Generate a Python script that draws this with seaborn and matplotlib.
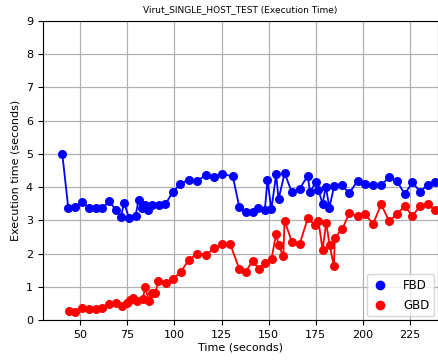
import matplotlib
matplotlib.use("Agg")
import matplotlib.pyplot as plt
from matplotlib.lines import Line2D
import pandas as pd
import seaborn as sns

# Execution time samples (time in seconds, execution time in seconds)
fbd_time = [40.4, 43.6, 47.2, 51.1, 54.6, 58.2, 61.7, 65.3, 68.8, 71.6, 73.2,
            75.9, 79.3, 80.9, 82.8, 84.6, 86.0, 88.2, 91.7, 95.1, 99.1, 103.2,
            107.5, 112.0, 116.6, 120.9, 125.3, 131.0, 134.4, 138.0, 141.5,
            144.6, 148.0, 149.4, 151.5, 154.0, 155.3, 158.5, 162.4, 166.5,
            170.8, 172.0, 175.0, 176.4, 178.7, 180.4, 182.3, 184.8, 188.9,
            192.9, 197.3, 201.4, 205.5, 209.8, 214.0, 218.3, 222.3, 226.4,
            230.5, 234.6, 238.5]
fbd_exec = [5.00, 3.36, 3.41, 3.56, 3.36, 3.36, 3.36, 3.58, 3.31, 3.09, 3.53,
            3.06, 3.13, 3.60, 3.36, 3.45, 3.31, 3.46, 3.47, 3.48, 3.85, 4.10,
            4.22, 4.18, 4.36, 4.30, 4.40, 4.32, 3.41, 3.26, 3.26, 3.36, 3.31,
            4.20, 3.33, 4.38, 3.63, 4.42, 3.84, 3.95, 4.34, 3.85, 4.14, 3.92,
            3.50, 4.01, 3.38, 4.03, 4.05, 3.82, 4.19, 4.10, 4.05, 4.05, 4.30,
            4.17, 3.79, 4.14, 3.86, 4.07, 4.14]

gbd_time = [44.0, 47.2, 50.7, 54.6, 58.2, 61.7, 65.3, 68.8, 72.0, 75.0, 76.4,
            78.2, 80.3, 83.2, 84.4, 86.5, 88.0, 89.7, 91.5, 95.4, 99.3, 103.5,
            107.6, 112.2, 116.7, 121.1, 125.4, 129.5, 134.4, 138.0, 141.5,
            144.8, 148.3, 151.6, 154.0, 155.3, 157.8, 158.5, 162.4, 166.5,
            170.8, 174.6, 176.5, 178.7, 180.6, 182.4, 184.7, 185.2, 189.2,
            192.9, 197.3, 201.4, 205.5, 209.8, 214.0, 218.3, 222.3, 226.4,
            230.5, 234.6, 238.5]
gbd_exec = [0.27, 0.25, 0.37, 0.32, 0.32, 0.35, 0.48, 0.50, 0.43, 0.50, 0.60,
            0.65, 0.58, 0.62, 0.98, 0.57, 0.80, 0.80, 1.18, 1.10, 1.24, 1.46,
            1.81, 2.00, 1.96, 2.16, 2.28, 2.30, 1.54, 1.46, 1.79, 1.54, 1.71,
            1.85, 2.60, 2.26, 1.92, 2.99, 2.35, 2.28, 3.06, 2.87, 2.97, 2.11,
            2.93, 2.26, 1.63, 2.48, 2.75, 3.21, 3.13, 3.18, 2.89, 3.48, 2.98,
            3.19, 3.43, 3.13, 3.43, 3.48, 3.31]

series_names = ["FBD", "GBD"]
series_colors = {"FBD": "blue", "GBD": "red"}

df = pd.concat([
    pd.DataFrame({"time": fbd_time, "exec": fbd_exec, "series": "FBD"}),
    pd.DataFrame({"time": gbd_time, "exec": gbd_exec, "series": "GBD"}),
], ignore_index=True)

fig = plt.figure(figsize=(4.38, 3.60), dpi=100)
ax = fig.add_axes([0.0975, 0.111, 0.9025, 0.831])

sns.lineplot(data=df, x="time", y="exec", hue="series", hue_order=series_names,
             palette=series_colors, estimator=None, sort=False,
             marker="o", markersize=6.5, markeredgewidth=0, linewidth=1.3,
             legend=False, ax=ax)

ax.set_xlim(30, 240)
ax.set_ylim(0, 9)
ax.set_xticks([50, 75, 100, 125, 150, 175, 200, 225])
ax.set_yticks(range(0, 10))
ax.tick_params(labelsize=8)
ax.grid(True, color="#b0b0b0", linewidth=0.9)
ax.set_axisbelow(True)

ax.set_title("Virut_SINGLE_HOST_TEST (Execution Time)", fontsize=6.5)
ax.set_xlabel("Time (seconds)", fontsize=8, labelpad=2)
ax.set_ylabel("Execution time (seconds)", fontsize=8, labelpad=4)

handles = [Line2D([], [], linestyle="none", marker="o", markersize=7,
                  markeredgewidth=0, color=series_colors[n]) for n in series_names]
ax.legend(handles, series_names, loc="lower right", fontsize=8.5,
          handlelength=1.4, handletextpad=1.3, labelspacing=0.6,
          borderaxespad=0.3)

fig.savefig("out.png", dpi=100)
